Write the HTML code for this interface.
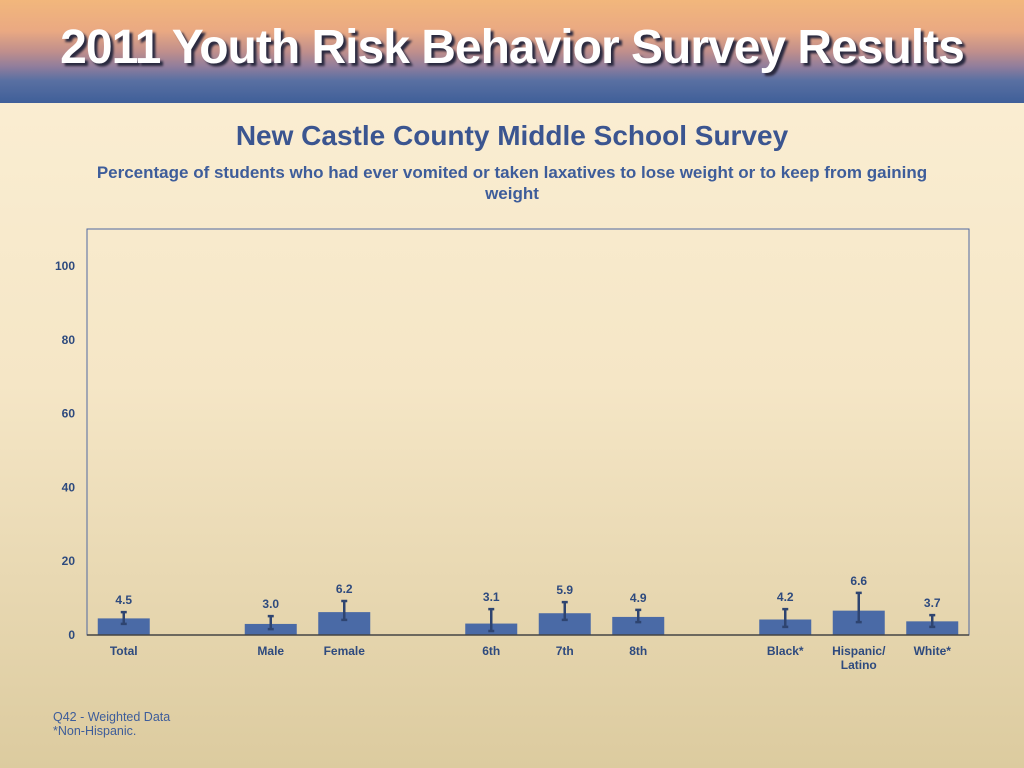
<!DOCTYPE html>
<html><head><meta charset="utf-8"><style>
body{margin:0;width:1024px;height:768px;overflow:hidden;font-family:"Liberation Sans",sans-serif;background:linear-gradient(#fcf0d6 0%,#f5e6c6 50%,#dccb9f 100%);position:relative}
#hdr{position:absolute;left:0;top:0;width:1024px;height:103px;background:linear-gradient(#f2b77c 0%,#eaa982 30%,#c08f8c 50%,#8f7d9c 65%,#5a70a2 78%,#3f5f99 100%)}
#hdr div{position:absolute;left:0;width:1024px;top:20px;text-align:center;color:#fff;font-size:48px;font-weight:bold;letter-spacing:-1px;text-shadow:3px 3px 2px #2a2a40}
.t{position:absolute;left:0;width:1024px;text-align:center;color:#3b5998;font-weight:bold}
</style></head><body>
<div id="hdr"><div>2011 Youth Risk Behavior Survey Results</div></div>
<div class="t" style="top:120px;font-size:28px;color:#3b5590">New Castle County Middle School Survey</div>
<div class="t" style="top:162px;left:82px;width:860px;font-size:17px;line-height:21px;color:#3e5d9a">Percentage of students who had ever vomited or taken laxatives to lose weight or to keep from gaining weight</div>
<svg id="ch" width="1024" height="768" style="position:absolute;left:0;top:0"></svg>
<div style="position:absolute;left:53px;top:710px;font-size:12.5px;color:#3e5d9a;line-height:14px">Q42 - Weighted Data<br>*Non-Hispanic.</div>
<script>
const categories=["Total","","Male","Female","","6th","7th","8th","","Black*","Hispanic/\nLatino","White*"];
const values=[4.5,null,3.0,6.2,null,3.1,5.9,4.9,null,4.2,6.6,3.7];
const lower=[3.0,null,1.6,4.1,null,1.1,4.1,3.5,null,2.2,3.5,2.2];
const upper=[6.2,null,5.1,9.2,null,7.0,8.9,6.8,null,7.0,11.4,5.4];
const yTicks=[0,20,40,60,80,100];
const NS="http://www.w3.org/2000/svg",svg=document.getElementById('ch');
const X0=87,X1=969,Y0=635,YT=229,slot=(X1-X0)/categories.length;
const y=v=>Y0-v*(Y0-266)/100, xc=i=>X0+slot*(i+0.5);
function el(t,a,txt){const e=document.createElementNS(NS,t);for(const k in a)e.setAttribute(k,a[k]);if(txt!=null)e.textContent=txt;svg.appendChild(e);return e;}
let f=el('rect',{x:X0,y:YT,width:X1-X0,height:Y0-YT,fill:'none',stroke:'#5068a0','stroke-width':1});

yTicks.forEach(v=>{let t=el('text',{x:75,y:y(v)+4,'text-anchor':'end','font-size':12,'font-weight':'bold',fill:'#2e4a7e','font-family':'Liberation Sans'},v);
});
categories.forEach((c,i)=>{
 if(values[i]==null)return;const cx=xc(i);
 let b=el('rect',{x:cx-26,y:y(values[i]),width:52,height:Y0-y(values[i]),fill:'#4a6aa6'});
 
 let e=el('path',{d:`M${cx},${y(upper[i])}V${y(lower[i])}M${cx-3},${y(upper[i])}H${cx+3}M${cx-3},${y(lower[i])}H${cx+3}`,stroke:'#2e4470','stroke-width':2.5,fill:'none'});
 
 let v=el('text',{x:cx,y:y(upper[i])-8,'text-anchor':'middle','font-size':12,'font-weight':'bold',fill:'#2e4a7e','font-family':'Liberation Sans'},values[i].toFixed(1));
 
 c.split('\n').forEach((ln,k)=>{let t=el('text',{x:cx,y:655+k*14,'text-anchor':'middle','font-size':12,'font-weight':'bold',fill:'#2e4a7e','font-family':'Liberation Sans'},ln);
 });
});
let ax=el('line',{x1:X0,x2:X1,y1:Y0,y2:Y0,stroke:'#444','stroke-width':1.5});

</script>
</body></html>
